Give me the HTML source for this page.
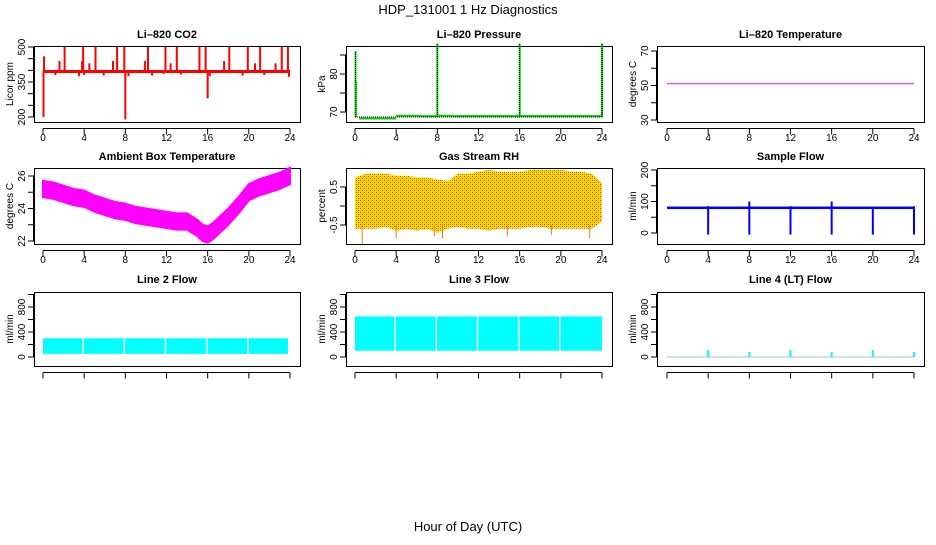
<!DOCTYPE html>
<html><head><meta charset="utf-8"><style>
body{margin:0;background:#fff;width:936px;height:540px;overflow:hidden}
svg text{font-family:"Liberation Sans",sans-serif;}
</style></head><body>
<svg id="c" width="936" height="540" xmlns="http://www.w3.org/2000/svg">
<defs>
<pattern id="rh" width="4" height="4" patternUnits="userSpaceOnUse">
<rect width="4" height="4" fill="#ffe000"/>
<rect x="0" y="0" width="1" height="1" fill="#e03010"/><rect x="2" y="2" width="1" height="1" fill="#e03010"/>
<rect x="2" y="0" width="1" height="1" fill="#f08000"/><rect x="0" y="2" width="1" height="1" fill="#f08000"/>
</pattern>
</defs>
<text x="468" y="14" text-anchor="middle" font-size="13">HDP_131001  1 Hz Diagnostics</text>
<text x="468" y="531" text-anchor="middle" font-size="13">Hour of Day (UTC)</text>
</svg>
<script>
const xTicks=[0,4,8,12,16,20,24];
// CO2
const co2Base=395;
const co2SpikeHours=[2.1,3.9,5.1,7.2,7.9,10.2,11.9,13.0,15.2,15.8,18.1,19.9,21.1,23.2,23.8,1.6,3.8,4.5,6.8,9.9,12.4,17.6,20.6,22.6,0.05,0.1,8.0,16.0,1.2,3.5,4.0,5.9,8.3,10.6,11.7,13.4,16.2,19.4,21.5,23.9];
const co2SpikeVals=[500,500,500,500,500,500,500,500,500,500,500,500,500,500,500,440,440,430,440,440,430,440,430,430,200,460,190,280,380,375,380,378,375,378,385,382,375,378,380,372];
// Pressure
const presBase=68.7;
const presSpikeHours=[0.05,0.08,8.0,16.0,24.0];
const presSpikeVals=[86,78,88,88,88];
const presBumpHours=[0.4,1.8,4,6,6.5,8,9.6,16,24];
const presBumpVals=[68.3,68.3,69.0,69.0,68.9,69.0,68.9,68.9,68.9];
// Temperature
const tempVal=[51,51];
// Ambient box temperature, hourly centre
const ambHours=[0,1,2,3,4,5,6,7,8,9,10,11,12,13,14,15,15.5,16,16.5,17,18,19,20,21,22,23,24];
const ambVals=[25.2,25.1,24.9,24.7,24.6,24.3,24.1,23.9,23.8,23.6,23.5,23.4,23.3,23.2,23.2,22.8,22.5,22.4,22.6,22.9,23.5,24.2,25.0,25.3,25.5,25.7,26.0];
const ambHalfWidth=0.5;
// Gas stream RH envelope
const rhHours=[0,1,2,3,4,5,6,7,8,9,10,11,12,13,14,15,16,17,18,19,20,21,22,23,24];
const rhUpper=[0.75,0.85,0.85,0.85,0.8,0.8,0.75,0.75,0.7,0.65,0.85,0.85,0.9,0.95,0.9,0.9,0.9,0.95,0.95,0.95,0.95,0.9,0.9,0.85,0.6];
const rhLower=[-0.6,-0.6,-0.6,-0.55,-0.65,-0.6,-0.65,-0.6,-0.7,-0.6,-0.55,-0.6,-0.6,-0.65,-0.6,-0.6,-0.6,-0.55,-0.55,-0.6,-0.6,-0.6,-0.6,-0.6,-0.4];
const rhSpikeHours=[0.7,4.0,7.7,8.5,14.8,19.1,22.8];
const rhSpikeVals=[-1.0,-0.85,-0.8,-0.85,-0.8,-0.75,-0.85];
// Sample flow
const sfBase=80;
const sfDipHours=[4,8,12,16,20,24];
const sfDipVals=[-5,-5,-5,-5,-5,-5];
const sfPeakVals=[85,100,85,100,80,85];
// Line flows
const l2Low=50, l2High=300;
const l3Low=100, l3High=650;
const gapHours=[4,8,12,16,20];
const l4SpikeHours=[4,8,12,16,20,24];
const l4SpikeVals=[110,80,110,80,110,80];

const svg=document.getElementById('c');
const NS='http://www.w3.org/2000/svg';
function el(tag,attrs,parent){const e=document.createElementNS(NS,tag);for(const k in attrs)e.setAttribute(k,attrs[k]);(parent||svg).appendChild(e);return e;}

const cols=[{bx:34,bw:266,x0:43,x1:290},{bx:346,bw:266,x0:355,x1:602},{bx:657,bw:267,x0:667,x1:914}];
const rows=[{by:46,bh:76,tY:38,lY:141},{by:168,bh:76,tY:160,lY:263},{by:292,bh:74,tY:283,lY:379}];

function panel(ci,ri,title,ylabel,yv0,yp0,yv1,yp1,ticks,labels,name,showXLabels){
  const c=cols[ci],r=rows[ri];
  const g=el('g',{});
  
  
  const X=h=>c.x0+(h/24)*(c.x1-c.x0);
  const Y=v=>yp0+(v-yv0)*(yp1-yp0)/(yv1-yv0);
  const t=el('text',{x:c.bx+c.bw/2,y:r.tY,'text-anchor':'middle','font-size':'11','font-weight':'bold'},g);
  t.textContent=title;
  
  
  const yl=el('text',{transform:`translate(${c.bx-21},${r.by+r.bh/2}) rotate(-90)`,'text-anchor':'middle','font-size':'10'},g);
  yl.textContent=ylabel;
  
  
  const axg=el('g',{stroke:'#000','stroke-width':'1'},g);
  // y axis
  const tp=ticks.map(Y);
  el('line',{x1:c.bx-0.5,x2:c.bx-0.5,y1:Math.min(...tp),y2:Math.max(...tp)},axg);
  ticks.forEach(v=>el('line',{x1:c.bx-6,x2:c.bx,y1:Y(v),y2:Y(v)},axg));
  labels.forEach(v=>{const tx=el('text',{transform:`translate(${c.bx-9},${Y(v)}) rotate(-90)`,'text-anchor':'middle','font-size':'10',stroke:'none'},g);tx.textContent=v;
    
    });
  // x axis
  const ay=r.by+r.bh+0.5;
  el('line',{x1:X(0),x2:X(24),y1:ay+6,y2:ay+6},axg);
  xTicks.forEach(h=>el('line',{x1:X(h),x2:X(h),y1:ay+6,y2:ay+12},axg));
  if(showXLabels)xTicks.forEach(h=>{const tx=el('text',{x:X(h),y:r.lY,'text-anchor':'middle','font-size':'10'},g);tx.textContent=h;
    
    });
  const box=el('rect',{x:c.bx+0.5,y:r.by+0.5,width:c.bw,height:r.bh,fill:'none',stroke:'#000'},g);
  
  
  const d=el('g',{},g);
  
  
  return {X,Y,d};
}

// CO2
let p=panel(0,0,'Li\u2013820 CO2','Licor ppm',500,47,200,117,[200,250,300,350,400,450,500],[200,350,500],'co2',true);
co2SpikeHours.forEach((h,i)=>el('line',{x1:p.X(h),x2:p.X(h),y1:p.Y(co2Base),y2:p.Y(co2SpikeVals[i]),stroke:'#f00','stroke-width':2},p.d));
el('line',{x1:p.X(0),x2:p.X(24),y1:p.Y(co2Base),y2:p.Y(co2Base),stroke:'#f00','stroke-width':3},p.d);

// Pressure
p=panel(1,0,'Li\u2013820 Pressure','kPa',70,112,80,74,[70,75,80,85],[70,80],'pressure',true);
for(let i=0;i<presBumpHours.length-1;i++){el('line',{x1:p.X(presBumpHours[i]),x2:p.X(presBumpHours[i+1]),y1:p.Y(presBumpVals[i]),y2:p.Y(presBumpVals[i]),stroke:'#0c0','stroke-width':2},p.d);}
el('line',{x1:p.X(0),x2:p.X(24),y1:p.Y(presBase),y2:p.Y(presBase),stroke:'#000','stroke-width':1,'stroke-dasharray':'1,1'},p.d);
presSpikeHours.forEach((h,i)=>{el('line',{x1:p.X(h),x2:p.X(h),y1:p.Y(presBase),y2:p.Y(presSpikeVals[i]),stroke:'#0d0','stroke-width':2},p.d);
 el('line',{x1:p.X(h),x2:p.X(h),y1:p.Y(presBase),y2:p.Y(presSpikeVals[i]),stroke:'#000','stroke-width':1,'stroke-dasharray':'1,1'},p.d);});

// Temperature
p=panel(2,0,'Li\u2013820 Temperature','degrees C',70,51,30,120,[30,40,50,60,70],[30,50,70],'li820-temp',true);
el('line',{x1:p.X(0),x2:p.X(24),y1:p.Y(tempVal[0]),y2:p.Y(tempVal[1]),stroke:'#f0f','stroke-width':1},p.d);

// Ambient
p=panel(0,1,'Ambient Box Temperature','degrees C',26,176,22,241,[22,23,24,25,26],[22,24,26],'ambient-temp',true);
{let up=ambHours.map((h,i)=>p.X(h)+','+p.Y(ambVals[i]+ambHalfWidth));let lo=ambHours.map((h,i)=>p.X(h)+','+p.Y(ambVals[i]-ambHalfWidth)).reverse();
el('polygon',{points:up.concat(lo).join(' '),fill:'#f0f',stroke:'#f0f','stroke-width':2},p.d);}

// RH
p=panel(1,1,'Gas Stream RH','percent',0.5,187,-0.5,225,[-0.5,0,0.5],[-0.5,0.5],'gas-rh',true);
{let up=rhHours.map((h,i)=>p.X(h)+','+p.Y(rhUpper[i]));let lo=rhHours.map((h,i)=>p.X(h)+','+p.Y(rhLower[i])).reverse();
el('polygon',{points:up.concat(lo).join(' '),fill:'url(#rh)'},p.d);
rhSpikeHours.forEach((h,i)=>el('line',{x1:p.X(h),x2:p.X(h),y1:p.Y(-0.5),y2:p.Y(rhSpikeVals[i]),stroke:'#f08000','stroke-width':1},p.d));}

// Sample flow
p=panel(2,1,'Sample Flow','ml/min',200,170,0,233,[0,50,100,150,200],[0,100,200],'sample-flow',true);
el('rect',{x:p.X(0),y:p.Y(sfBase+4),width:p.X(24)-p.X(0),height:p.Y(sfBase-4)-p.Y(sfBase+4),fill:'#00f'},p.d);
sfDipHours.forEach((h,i)=>{el('line',{x1:p.X(h),x2:p.X(h),y1:p.Y(sfPeakVals[i]),y2:p.Y(sfDipVals[i]),stroke:'#00f','stroke-width':2},p.d);});

// Line 2
p=panel(0,2,'Line 2 Flow','ml/min',0,357,800,307,[0,200,400,600,800,1000],[0,400,800],'line2-flow',false);
el('rect',{x:p.X(0),y:p.Y(l2High),width:p.X(23.8)-p.X(0),height:p.Y(l2Low)-p.Y(l2High),fill:'#0ff'},p.d);
gapHours.forEach(h=>el('line',{x1:p.X(h)-1,x2:p.X(h)-1,y1:p.Y(l2High),y2:p.Y(l2Low),stroke:'#fff','stroke-width':1.5},p.d));

// Line 3
p=panel(1,2,'Line 3 Flow','ml/min',0,357,800,307,[0,200,400,600,800,1000],[0,400,800],'line3-flow',false);
el('rect',{x:p.X(0),y:p.Y(l3High),width:p.X(24)-p.X(0),height:p.Y(l3Low)-p.Y(l3High),fill:'#0ff'},p.d);
gapHours.forEach(h=>el('line',{x1:p.X(h)-1,x2:p.X(h)-1,y1:p.Y(l3High),y2:p.Y(l3Low),stroke:'#fff','stroke-width':1.5},p.d));

// Line 4
p=panel(2,2,'Line 4 (LT) Flow','ml/min',0,357,800,307,[0,200,400,600,800,1000],[0,400,800],'line4-flow',false);
el('line',{x1:p.X(0),x2:p.X(24),y1:p.Y(0),y2:p.Y(0),stroke:'#8cc','stroke-width':1},p.d);
l4SpikeHours.forEach((h,i)=>el('line',{x1:p.X(h),x2:p.X(h),y1:p.Y(0),y2:p.Y(l4SpikeVals[i]),stroke:'#0ff','stroke-width':2},p.d));
</script>
</body></html>
